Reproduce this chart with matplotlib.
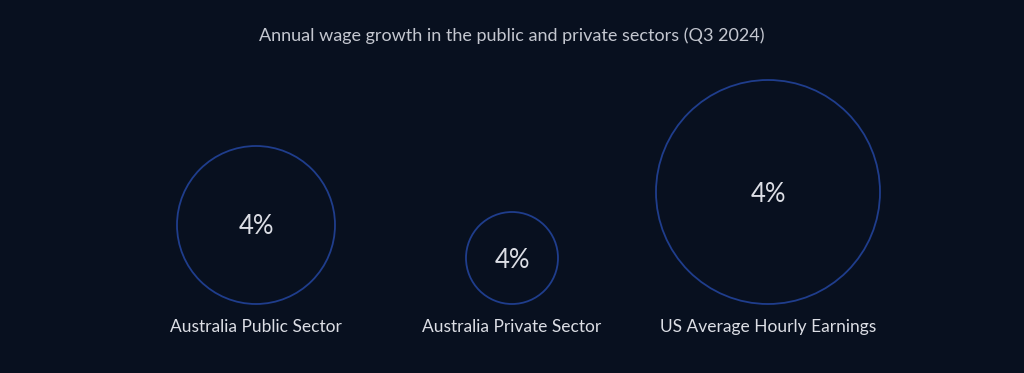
import matplotlib
matplotlib.use("Agg")
import matplotlib.pyplot as plt
from matplotlib.patches import Circle

# Dados
categorias = ['Australia Public Sector', 'Australia Private Sector', 'US Average Hourly Earnings']
rotulos = ['4%', '4%', '4%']
raios = [79, 46, 112]  # tamanho da bolha (px)

titulo = 'Annual wage growth in the public and private sectors (Q3 2024)'

fundo = '#08101f'
cor_texto = '#dcdee5'
cor_borda = '#1f3d8c'

plt.rcParams['font.family'] = ['Lato', 'DejaVu Sans']

fig = plt.figure(figsize=(10.24, 3.73), dpi=100, facecolor=fundo)
ax = fig.add_axes([0, 0, 1, 1])
ax.set_facecolor(fundo)
ax.set_xlim(0, 1024)
ax.set_ylim(373, 0)
ax.set_aspect('equal')
ax.axis('off')

base = 304
for i, (cat, rot, r) in enumerate(zip(categorias, rotulos, raios)):
    x = (i + 1) * 256
    y = base - r
    ax.add_patch(Circle((x, y), r, facecolor='none', edgecolor=cor_borda, linewidth=1.3))
    ax.text(x, y + 2, rot, ha='center', va='center', color=cor_texto, fontsize=18.5)
    ax.text(x, 327, cat, ha='center', va='center', color=cor_texto, fontsize=12.5)

ax.text(512, 36, titulo, ha='center', va='center', color='#c4c7d0', fontsize=13)

fig.savefig('out.png', dpi=100, facecolor=fundo)
